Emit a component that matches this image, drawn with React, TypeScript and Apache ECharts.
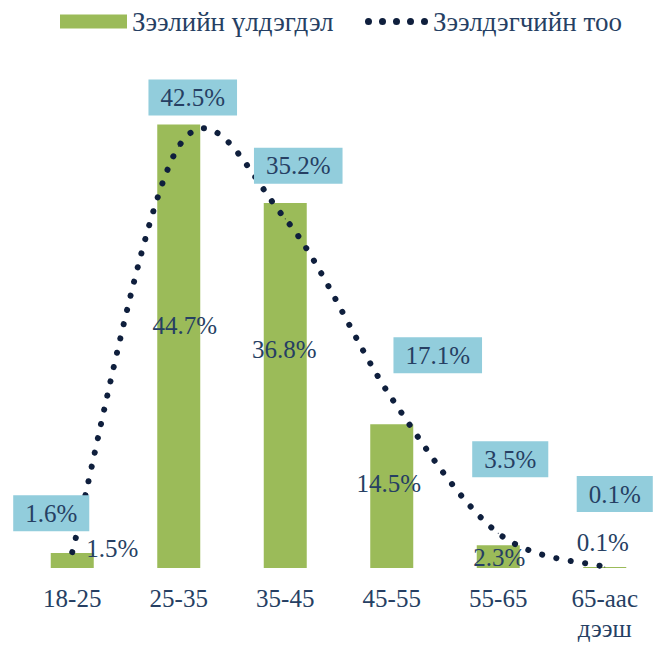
import React, { useEffect, useRef } from "react";
import * as echarts from "echarts";

const categories = ["18-25", "25-35", "35-45", "45-55", "55-65", "65-аас\nдээш"];
const loanBalance = [1.5, 44.7, 36.8, 14.5, 2.3, 0.1];
const borrowers = [1.6, 42.5, 35.2, 17.1, 3.5, 0.1];
const seriesNames = ["Зээлийн үлдэгдэл", "Зээлдэгчийн тоо"];

// label offsets (styling only)
const barLabelOffsets = [[40, -12], [6, -21], [-1, -36], [-3, -13], [1, 1], [-2, -25]];
const lineLabelOffsets = [[-21, -39], [14, -49], [13, -53], [46, -43], [12, -74], [10, -73]];

const FONT = "Liberation Serif";
const TEXT = "#263F63";
const GREEN = "#9BBB59";
const NAVY = "#0F1F3D";
const BOX = "#92CDDC";

function dotsPath(n: number, r: number, step: number) {
  let d = "path://";
  for (let i = 0; i < n; i++) {
    const cx = r + i * step;
    d += `M${cx - r},${r}a${r},${r} 0 1,0 ${2 * r},0a${r},${r} 0 1,0 ${-2 * r},0Z `;
  }
  return d.trim();
}

export default function App() {
  const ref = useRef<HTMLDivElement>(null);
  useEffect(() => {
    if (!ref.current) return;
    const chart = echarts.init(ref.current, undefined, { renderer: "svg" });
    const fmt = (p: any) => {
      const v = Array.isArray(p.value) ? p.value[1] : p.value;
      return Number(v).toFixed(1) + "%";
    };
    // Excel-style smoothed curve through the points (Catmull-Rom, tension 1/6)
    const renderCurve = (params: any, api: any) => {
      if (params.dataIndex !== 0) return null;
      const pts = borrowers.map((v, i) => api.coord([i, v]));
      const n = pts.length;
      const P = (k: number) => pts[Math.max(0, Math.min(n - 1, k))];
      let d = `M${pts[0][0]},${pts[0][1]}`;
      for (let i = 0; i < n - 1; i++) {
        const p0 = P(i - 1), p1 = P(i), p2 = P(i + 1), p3 = P(i + 2);
        const c1x = p1[0] + (p2[0] - p0[0]) / 6;
        const c1y = p1[1] + (p2[1] - p0[1]) / 6;
        const c2x = p2[0] - (p3[0] - p1[0]) / 6;
        const c2y = p2[1] - (p3[1] - p1[1]) / 6;
        d += ` C${c1x},${c1y} ${c2x},${c2y} ${p2[0]},${p2[1]}`;
      }
      return {
        type: "path",
        shape: { pathData: d },
        style: {
          fill: "none",
          stroke: NAVY,
          lineWidth: 6,
          lineDash: [0.1, 14.5],
          lineCap: "round",
        },
      };
    };
    chart.setOption({
      animation: false,
      backgroundColor: "#ffffff",
      textStyle: { fontFamily: FONT },
      legend: [
        {
          left: 55,
          top: 3,
          itemWidth: 67,
          itemHeight: 14,
          data: [{ name: seriesNames[0], icon: "rect" }],
          textStyle: { fontFamily: FONT, fontSize: 27, color: TEXT },
        },
        {
          left: 360,
          top: 3,
          itemWidth: 63,
          itemHeight: 7,
          data: [{ name: seriesNames[1], icon: dotsPath(5, 3.5, 14), itemStyle: { color: NAVY } }],
          textStyle: { fontFamily: FONT, fontSize: 27, color: TEXT },
        },
      ],
      grid: { left: 19, right: 0, top: 72, bottom: 77, containLabel: false, outerBoundsMode: "none" },
      xAxis: {
        type: "category",
        data: categories,
        axisLine: { show: false },
        axisTick: { show: false },
        axisLabel: {
          fontFamily: FONT,
          fontSize: 25,
          color: TEXT,
          margin: 15,
          lineHeight: 30,
          interval: 0,
        },
      },
      yAxis: {
        type: "value",
        min: 0,
        max: 50,
        show: false,
        splitLine: { show: false },
      },
      series: [
        {
          name: seriesNames[0],
          type: "bar",
          barWidth: 43,
          itemStyle: { color: GREEN },
          data: loanBalance.map((v, i) => ({
            value: v,
            label: {
              show: true,
              position: "inside",
              offset: barLabelOffsets[i],
              formatter: fmt,
              fontFamily: FONT,
              fontSize: 25,
              color: TEXT,
            },
          })),
          z: 2,
        },
        {
          name: "curve",
          type: "custom",
          renderItem: renderCurve,
          data: borrowers.map((v, i) => [i, v]),
          encode: { x: 0, y: 1 },
          silent: true,
          z: 3,
        },
        {
          name: seriesNames[1],
          type: "line",
          symbol: "circle",
          symbolSize: 1,
          itemStyle: { color: NAVY },
          lineStyle: { color: NAVY, width: 0, opacity: 0 },
          data: borrowers.map((v, i) => ({
            value: v,
            label: {
              show: true,
              position: "inside",
              offset: lineLabelOffsets[i],
              formatter: fmt,
              fontFamily: FONT,
              fontSize: 25,
              color: TEXT,
              backgroundColor: BOX,
              padding: [6, 12, 5, 12],
            },
          })),
          z: 4,
        },
      ],
    });
    return () => chart.dispose();
  }, []);
  return (
    <div
      ref={ref}
      style={{ position: "fixed", left: 0, top: 0, width: 658, height: 645, background: "#fff" }}
    />
  );
}
